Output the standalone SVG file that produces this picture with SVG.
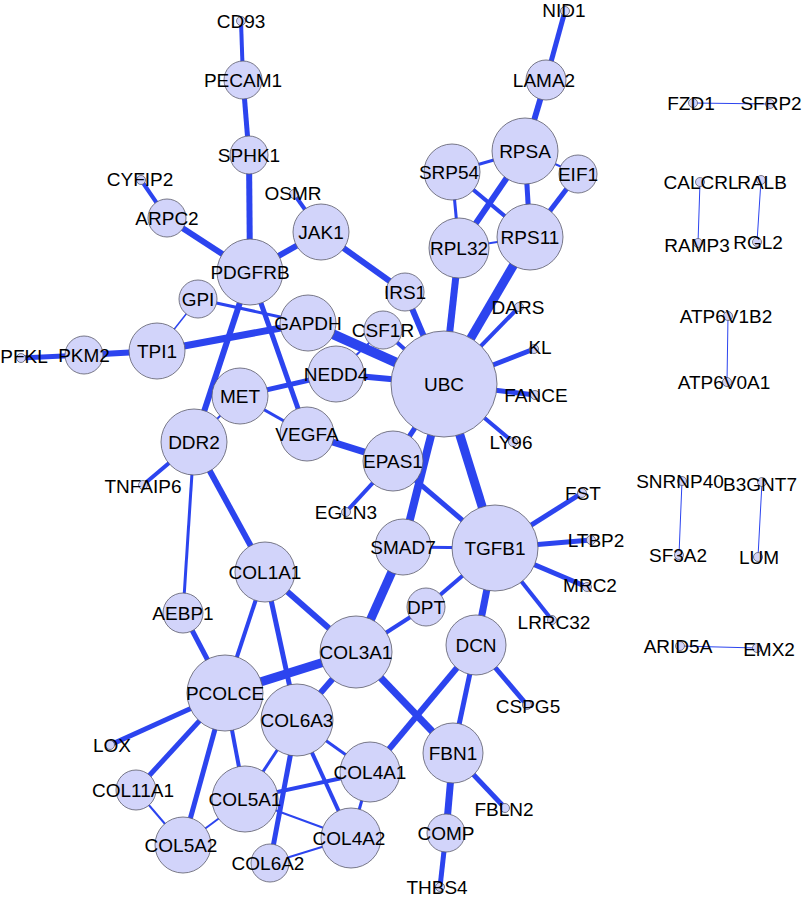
<svg xmlns="http://www.w3.org/2000/svg" width="804" height="897" viewBox="0 0 804 897">
<style>
.e{stroke:#2c44ef;fill:none}
.n circle{fill:#d2d4fa;stroke:#5a5a6a;stroke-width:0.8}
.n text{font-family:"Liberation Sans",Arial,sans-serif;font-size:19px;fill:#000;text-anchor:middle}
</style>
<rect width="804" height="897" fill="#fff"/>
<g id="edges" class="e">
<line x1="241" y1="21" x2="243" y2="80" stroke-width="4"/>
<line x1="243" y1="80" x2="249" y2="155" stroke-width="5"/>
<line x1="249" y1="155" x2="250" y2="272" stroke-width="6"/>
<line x1="141" y1="180" x2="167" y2="218" stroke-width="4"/>
<line x1="167" y1="218" x2="250" y2="272" stroke-width="6"/>
<line x1="294" y1="194" x2="321" y2="232" stroke-width="4"/>
<line x1="321" y1="232" x2="250" y2="272" stroke-width="6"/>
<line x1="321" y1="232" x2="405" y2="292" stroke-width="6"/>
<line x1="405" y1="292" x2="444" y2="384" stroke-width="6"/>
<line x1="250" y1="272" x2="194" y2="442" stroke-width="6"/>
<line x1="250" y1="272" x2="307" y2="434" stroke-width="5"/>
<line x1="198" y1="299" x2="308" y2="323" stroke-width="3"/>
<line x1="198" y1="299" x2="157" y2="351" stroke-width="1.5"/>
<line x1="157" y1="351" x2="308" y2="323" stroke-width="7"/>
<line x1="84" y1="355" x2="157" y2="351" stroke-width="6"/>
<line x1="21" y1="358" x2="84" y2="355" stroke-width="5"/>
<line x1="308" y1="323" x2="444" y2="384" stroke-width="10"/>
<line x1="383" y1="330" x2="444" y2="384" stroke-width="4"/>
<line x1="383" y1="330" x2="336" y2="374" stroke-width="2"/>
<line x1="336" y1="374" x2="444" y2="384" stroke-width="6"/>
<line x1="336" y1="374" x2="240" y2="396" stroke-width="5"/>
<line x1="240" y1="396" x2="307" y2="434" stroke-width="3"/>
<line x1="240" y1="396" x2="194" y2="442" stroke-width="2"/>
<line x1="307" y1="434" x2="393" y2="461" stroke-width="7"/>
<line x1="393" y1="461" x2="444" y2="384" stroke-width="5"/>
<line x1="393" y1="461" x2="346" y2="512" stroke-width="4"/>
<line x1="393" y1="461" x2="495" y2="548" stroke-width="5"/>
<line x1="444" y1="384" x2="403" y2="547" stroke-width="8"/>
<line x1="444" y1="384" x2="495" y2="548" stroke-width="9"/>
<line x1="403" y1="547" x2="495" y2="548" stroke-width="3"/>
<line x1="403" y1="547" x2="356" y2="652" stroke-width="9"/>
<line x1="495" y1="548" x2="426" y2="607" stroke-width="4"/>
<line x1="426" y1="607" x2="356" y2="652" stroke-width="4"/>
<line x1="495" y1="548" x2="476" y2="645" stroke-width="7"/>
<line x1="495" y1="548" x2="582" y2="493" stroke-width="5"/>
<line x1="495" y1="548" x2="591" y2="540" stroke-width="5"/>
<line x1="495" y1="548" x2="587" y2="587" stroke-width="5"/>
<line x1="495" y1="548" x2="552" y2="620" stroke-width="4"/>
<line x1="444" y1="384" x2="519" y2="307" stroke-width="4"/>
<line x1="444" y1="384" x2="534" y2="349" stroke-width="5"/>
<line x1="444" y1="384" x2="535" y2="395" stroke-width="5"/>
<line x1="444" y1="384" x2="513" y2="442" stroke-width="4"/>
<line x1="444" y1="384" x2="459" y2="248" stroke-width="7"/>
<line x1="444" y1="384" x2="530" y2="237" stroke-width="9"/>
<line x1="525" y1="151" x2="459" y2="248" stroke-width="6"/>
<line x1="525" y1="151" x2="452" y2="172" stroke-width="3"/>
<line x1="525" y1="151" x2="578" y2="174" stroke-width="2"/>
<line x1="525" y1="151" x2="530" y2="237" stroke-width="5"/>
<line x1="525" y1="151" x2="546" y2="80" stroke-width="6"/>
<line x1="546" y1="80" x2="565" y2="11" stroke-width="5"/>
<line x1="452" y1="172" x2="530" y2="237" stroke-width="4"/>
<line x1="452" y1="172" x2="459" y2="248" stroke-width="3"/>
<line x1="459" y1="248" x2="530" y2="237" stroke-width="2"/>
<line x1="578" y1="174" x2="530" y2="237" stroke-width="5"/>
<line x1="194" y1="442" x2="143" y2="485" stroke-width="4"/>
<line x1="194" y1="442" x2="183" y2="613" stroke-width="3"/>
<line x1="194" y1="442" x2="265" y2="572" stroke-width="6"/>
<line x1="183" y1="613" x2="225" y2="693" stroke-width="5"/>
<line x1="265" y1="572" x2="225" y2="693" stroke-width="4"/>
<line x1="265" y1="572" x2="297" y2="720" stroke-width="5"/>
<line x1="265" y1="572" x2="356" y2="652" stroke-width="6"/>
<line x1="225" y1="693" x2="356" y2="652" stroke-width="9"/>
<line x1="356" y1="652" x2="297" y2="720" stroke-width="6"/>
<line x1="356" y1="652" x2="453" y2="753" stroke-width="7"/>
<line x1="476" y1="645" x2="370" y2="772" stroke-width="6"/>
<line x1="476" y1="645" x2="453" y2="753" stroke-width="5"/>
<line x1="476" y1="645" x2="527" y2="705" stroke-width="5"/>
<line x1="453" y1="753" x2="505" y2="808" stroke-width="5"/>
<line x1="453" y1="753" x2="446" y2="833" stroke-width="7"/>
<line x1="446" y1="833" x2="440" y2="887" stroke-width="5"/>
<line x1="225" y1="693" x2="110" y2="745" stroke-width="5"/>
<line x1="225" y1="693" x2="136" y2="790" stroke-width="5"/>
<line x1="225" y1="693" x2="183" y2="845" stroke-width="5"/>
<line x1="225" y1="693" x2="245" y2="799" stroke-width="4"/>
<line x1="136" y1="790" x2="183" y2="845" stroke-width="2"/>
<line x1="183" y1="845" x2="245" y2="799" stroke-width="2"/>
<line x1="245" y1="799" x2="297" y2="720" stroke-width="3"/>
<line x1="245" y1="799" x2="370" y2="772" stroke-width="4"/>
<line x1="245" y1="799" x2="351" y2="838" stroke-width="2"/>
<line x1="297" y1="720" x2="270" y2="863" stroke-width="5"/>
<line x1="297" y1="720" x2="351" y2="838" stroke-width="4"/>
<line x1="297" y1="720" x2="370" y2="772" stroke-width="3"/>
<line x1="370" y1="772" x2="351" y2="838" stroke-width="3"/>
<line x1="270" y1="863" x2="351" y2="838" stroke-width="2"/>
<line x1="693" y1="103" x2="770" y2="104" stroke-width="1"/>
<line x1="700" y1="182" x2="698" y2="243" stroke-width="1"/>
<line x1="761" y1="180" x2="757" y2="242" stroke-width="1"/>
<line x1="728" y1="316" x2="727" y2="382" stroke-width="1"/>
<line x1="682" y1="481" x2="679" y2="555" stroke-width="1"/>
<line x1="762" y1="482" x2="758" y2="557" stroke-width="1"/>
<line x1="680" y1="646" x2="757" y2="648" stroke-width="1"/>
</g>
<g id="n-CD93" class="n"><circle cx="241" cy="21" r="4.5"/><text x="241" y="27.8">CD93</text></g>
<g id="n-PECAM1" class="n"><circle cx="243" cy="80" r="19"/><text x="243" y="86.8">PECAM1</text></g>
<g id="n-SPHK1" class="n"><circle cx="249" cy="155" r="19"/><text x="249" y="161.8">SPHK1</text></g>
<g id="n-CYFIP2" class="n"><circle cx="141" cy="180" r="4.5"/><text x="140" y="186">CYFIP2</text></g>
<g id="n-ARPC2" class="n"><circle cx="167" cy="218" r="19"/><text x="167" y="224.8">ARPC2</text></g>
<g id="n-OSMR" class="n"><circle cx="294" cy="194" r="4.5"/><text x="293" y="199.5">OSMR</text></g>
<g id="n-JAK1" class="n"><circle cx="321" cy="232" r="28"/><text x="321" y="238.8">JAK1</text></g>
<g id="n-PDGFRB" class="n"><circle cx="250" cy="272" r="33"/><text x="250" y="278.8">PDGFRB</text></g>
<g id="n-GPI" class="n"><circle cx="198" cy="299" r="19"/><text x="198" y="305.8">GPI</text></g>
<g id="n-TPI1" class="n"><circle cx="157" cy="351" r="28"/><text x="157" y="357.8">TPI1</text></g>
<g id="n-PKM2" class="n"><circle cx="84" cy="355" r="19"/><text x="84" y="361.8">PKM2</text></g>
<g id="n-PFKL" class="n"><circle cx="21" cy="358" r="4.5"/><text x="24" y="363">PFKL</text></g>
<g id="n-GAPDH" class="n"><circle cx="308" cy="323" r="28"/><text x="308" y="329.8">GAPDH</text></g>
<g id="n-IRS1" class="n"><circle cx="405" cy="292" r="19"/><text x="405" y="298.8">IRS1</text></g>
<g id="n-CSF1R" class="n"><circle cx="383" cy="330" r="19"/><text x="383" y="336.8">CSF1R</text></g>
<g id="n-NEDD4" class="n"><circle cx="336" cy="374" r="28"/><text x="336" y="380.8">NEDD4</text></g>
<g id="n-UBC" class="n"><circle cx="444" cy="384" r="53"/><text x="444" y="390.8">UBC</text></g>
<g id="n-MET" class="n"><circle cx="240" cy="396" r="28"/><text x="240" y="402.8">MET</text></g>
<g id="n-VEGFA" class="n"><circle cx="307" cy="434" r="27"/><text x="307" y="440.8">VEGFA</text></g>
<g id="n-DDR2" class="n"><circle cx="194" cy="442" r="33"/><text x="194" y="448.8">DDR2</text></g>
<g id="n-TNFAIP6" class="n"><circle cx="143" cy="485" r="4.5"/><text x="143" y="492.5">TNFAIP6</text></g>
<g id="n-EPAS1" class="n"><circle cx="393" cy="461" r="30"/><text x="393" y="467.8">EPAS1</text></g>
<g id="n-EGLN3" class="n"><circle cx="346" cy="512" r="4.5"/><text x="346" y="518.8">EGLN3</text></g>
<g id="n-SMAD7" class="n"><circle cx="403" cy="547" r="28"/><text x="403" y="553.8">SMAD7</text></g>
<g id="n-TGFB1" class="n"><circle cx="495" cy="548" r="43"/><text x="495" y="554.8">TGFB1</text></g>
<g id="n-DPT" class="n"><circle cx="426" cy="607" r="19"/><text x="426" y="613.8">DPT</text></g>
<g id="n-DCN" class="n"><circle cx="476" cy="645" r="30"/><text x="476" y="651.8">DCN</text></g>
<g id="n-COL1A1" class="n"><circle cx="265" cy="572" r="30"/><text x="265" y="578.8">COL1A1</text></g>
<g id="n-COL3A1" class="n"><circle cx="356" cy="652" r="36"/><text x="356" y="658.8">COL3A1</text></g>
<g id="n-AEBP1" class="n"><circle cx="183" cy="613" r="20"/><text x="183" y="619.8">AEBP1</text></g>
<g id="n-COL6A3" class="n"><circle cx="297" cy="720" r="36"/><text x="297" y="726.8">COL6A3</text></g>
<g id="n-PCOLCE" class="n"><circle cx="225" cy="693" r="38"/><text x="225" y="699.8">PCOLCE</text></g>
<g id="n-LOX" class="n"><circle cx="110" cy="745" r="4.5"/><text x="112" y="751.8">LOX</text></g>
<g id="n-COL11A1" class="n"><circle cx="136" cy="790" r="20"/><text x="133" y="796.8">COL11A1</text></g>
<g id="n-COL5A1" class="n"><circle cx="245" cy="799" r="33"/><text x="245" y="805.8">COL5A1</text></g>
<g id="n-COL4A1" class="n"><circle cx="370" cy="772" r="30"/><text x="370" y="778.8">COL4A1</text></g>
<g id="n-COL4A2" class="n"><circle cx="351" cy="838" r="30"/><text x="349" y="844.8">COL4A2</text></g>
<g id="n-COL5A2" class="n"><circle cx="183" cy="845" r="28"/><text x="181" y="851.8">COL5A2</text></g>
<g id="n-COL6A2" class="n"><circle cx="270" cy="863" r="19"/><text x="268" y="869.8">COL6A2</text></g>
<g id="n-FBN1" class="n"><circle cx="453" cy="753" r="30"/><text x="453" y="759.8">FBN1</text></g>
<g id="n-FBLN2" class="n"><circle cx="505" cy="808" r="4.5"/><text x="504" y="815.8">FBLN2</text></g>
<g id="n-COMP" class="n"><circle cx="446" cy="833" r="19"/><text x="446" y="839.8">COMP</text></g>
<g id="n-THBS4" class="n"><circle cx="440" cy="887" r="4.5"/><text x="437" y="894">THBS4</text></g>
<g id="n-CSPG5" class="n"><circle cx="527" cy="705" r="4.5"/><text x="528" y="712.8">CSPG5</text></g>
<g id="n-LRRC32" class="n"><circle cx="552" cy="620" r="4.5"/><text x="554" y="628.8">LRRC32</text></g>
<g id="n-MRC2" class="n"><circle cx="587" cy="587" r="4.5"/><text x="590" y="591.8">MRC2</text></g>
<g id="n-LTBP2" class="n"><circle cx="591" cy="540" r="4.5"/><text x="596" y="546.8">LTBP2</text></g>
<g id="n-FST" class="n"><circle cx="582" cy="493" r="4.5"/><text x="583" y="499.8">FST</text></g>
<g id="n-LY96" class="n"><circle cx="513" cy="442" r="4.5"/><text x="511" y="448.8">LY96</text></g>
<g id="n-FANCE" class="n"><circle cx="535" cy="395" r="4.5"/><text x="536" y="401.8">FANCE</text></g>
<g id="n-KL" class="n"><circle cx="534" cy="349" r="4.5"/><text x="540" y="353.8">KL</text></g>
<g id="n-DARS" class="n"><circle cx="519" cy="307" r="4.5"/><text x="518" y="313.8">DARS</text></g>
<g id="n-RPL32" class="n"><circle cx="459" cy="248" r="30"/><text x="459" y="254.8">RPL32</text></g>
<g id="n-RPS11" class="n"><circle cx="530" cy="237" r="33"/><text x="530" y="243.8">RPS11</text></g>
<g id="n-SRP54" class="n"><circle cx="452" cy="172" r="28"/><text x="449" y="178.8">SRP54</text></g>
<g id="n-RPSA" class="n"><circle cx="525" cy="151" r="33"/><text x="525" y="157.8">RPSA</text></g>
<g id="n-EIF1" class="n"><circle cx="578" cy="174" r="19"/><text x="578" y="180.8">EIF1</text></g>
<g id="n-LAMA2" class="n"><circle cx="546" cy="80" r="20"/><text x="544" y="86.8">LAMA2</text></g>
<g id="n-NID1" class="n"><circle cx="565" cy="11" r="4.5"/><text x="564" y="16.8">NID1</text></g>
<g id="n-FZD1" class="n"><circle cx="693" cy="103" r="4.5"/><text x="691" y="109.8">FZD1</text></g>
<g id="n-SFRP2" class="n"><circle cx="770" cy="104" r="4.5"/><text x="771" y="109.8">SFRP2</text></g>
<g id="n-CALCRL" class="n"><circle cx="700" cy="182" r="4.5"/><text x="701" y="188.8">CALCRL</text></g>
<g id="n-RALB" class="n"><circle cx="761" cy="180" r="4.5"/><text x="762" y="188.8">RALB</text></g>
<g id="n-RAMP3" class="n"><circle cx="698" cy="243" r="4.5"/><text x="697" y="251.8">RAMP3</text></g>
<g id="n-RGL2" class="n"><circle cx="757" cy="242" r="4.5"/><text x="758" y="248.8">RGL2</text></g>
<g id="n-ATP6V1B2" class="n"><circle cx="728" cy="316" r="4.5"/><text x="726" y="322.8">ATP6V1B2</text></g>
<g id="n-ATP6V0A1" class="n"><circle cx="727" cy="382" r="4.5"/><text x="724" y="388.8">ATP6V0A1</text></g>
<g id="n-SNRNP40" class="n"><circle cx="682" cy="481" r="4.5"/><text x="680" y="487.8">SNRNP40</text></g>
<g id="n-SF3A2" class="n"><circle cx="679" cy="555" r="4.5"/><text x="678" y="561.8">SF3A2</text></g>
<g id="n-B3GNT7" class="n"><circle cx="762" cy="482" r="4.5"/><text x="760" y="490.8">B3GNT7</text></g>
<g id="n-LUM" class="n"><circle cx="758" cy="557" r="4.5"/><text x="759" y="563.8">LUM</text></g>
<g id="n-ARID5A" class="n"><circle cx="680" cy="646" r="4.5"/><text x="678" y="652.8">ARID5A</text></g>
<g id="n-EMX2" class="n"><circle cx="757" cy="648" r="4.5"/><text x="769" y="655.8">EMX2</text></g>
</svg>
